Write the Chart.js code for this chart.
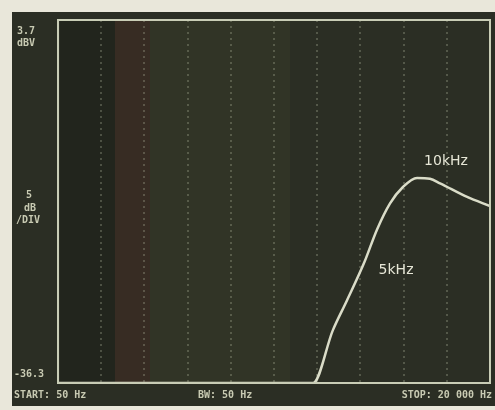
<!DOCTYPE html>
<html>
<head>
<meta charset="utf-8">
<script src="https://cdn.jsdelivr.net/npm/chart.js@4"></script>
<style>
  html, body { margin: 0; padding: 0; background: #e9e7da; }
  #wrap { width: 495px; height: 410px; position: relative; }
</style>
</head>
<body>
<div id="wrap"><canvas id="specChart" width="495" height="410"></canvas></div>
<script>
// trace (Hz, dBV)
var freqHz = [50, 1000, 1720, 2260, 2750, 3500, 4170, 5000, 5980, 7270, 8700, 10000, 14560, 20000];
var levelDb = [-36.3, -36.3, -36.3, -30.5, -27.2, -23.0, -19.4, -16.5, -14.7, -13.7, -13.8, -14.3, -15.8, -16.8];

var markerText = ["10kHz", "5kHz"];
var markerHz = [10000, 5000];
var markerDb = [-11.9, -23.9];

var refLevel = 3.7;
var dbPerDiv = 5;
var yDivs = 8;
var startHz = 50;
var stopHz = 20000;
var xDivs = 10;

var points = freqHz.map(function (f, i) { return { x: f, y: levelDb[i] }; });

var screenBg = {
    id: "screenBg",
    beforeDraw: function (chart) {
        var c = chart.ctx;
        c.save();
        c.fillStyle = "#2b2e24";
        c.fillRect(12, 12, 483, 394);
        // uneven tint bands from the photo
        c.fillStyle = "rgba(18,20,18,0.35)";
        c.fillRect(60, 20, 55, 363);
        c.fillStyle = "rgba(75,42,36,0.4)";
        c.fillRect(115, 20, 35, 363);
        c.fillStyle = "rgba(62,66,42,0.3)";
        c.fillRect(150, 20, 140, 363);
        c.restore();
    },
    afterDraw: function (chart) {
        var c = chart.ctx;
        var a = chart.chartArea;
        var xs = chart.scales.x, ys = chart.scales.y;
        c.save();
        c.strokeStyle = "#c9cdb6";
        c.lineWidth = 2;
        c.strokeRect(a.left, a.top, a.right - a.left, a.bottom - a.top);

        c.fillStyle = "#e6e6d6";
        c.font = "14px 'DejaVu Sans', sans-serif";
        c.textAlign = "center";
        c.textBaseline = "middle";
        markerText.forEach(function (t, i) {
            c.fillText(t, xs.getPixelForValue(markerHz[i]) + 6, ys.getPixelForValue(markerDb[i]));
        });

        c.fillStyle = "#c8cab2";
        c.font = "bold 10px 'DejaVu Sans Mono', monospace";
        c.textAlign = "left";
        c.fillText(refLevel.toFixed(1), 17, 31);
        c.fillText("dBV", 17, 43);
        c.fillText(String(dbPerDiv), 26, 195);
        c.fillText("dB", 24, 208);
        c.fillText("/DIV", 16, 220);
        c.fillText((refLevel - dbPerDiv * yDivs).toFixed(1), 14, 374);
        c.fillText("START: " + startHz + " Hz", 14, 395);
        c.fillText("BW: 50 Hz", 198, 395);
        c.textAlign = "right";
        c.fillText("STOP: 20 000 Hz", 492, 395);
        c.restore();
    }
};

var ctx = document.getElementById("specChart").getContext("2d");
var specChart = new Chart(ctx, {
    type: "line",
    data: {
        datasets: [{
            data: points,
            borderColor: "#dadcc8",
            borderWidth: 2.5,
            pointRadius: 0,
            cubicInterpolationMode: "monotone",
            fill: false
        }]
    },
    options: {
        responsive: false,
        animation: false,
        layout: { padding: { left: 58, right: 5, top: 20, bottom: 27 } },
        scales: {
            x: {
                type: "logarithmic",
                min: startHz,
                max: stopHz,
                afterBuildTicks: function (axis) {
                    var t = [];
                    for (var k = 0; k <= xDivs; k++) {
                        t.push({ value: startHz * Math.pow(stopHz / startHz, k / xDivs) });
                    }
                    axis.ticks = t;
                },
                ticks: { display: false },
                border: { display: false, dash: [2, 4] },
                grid: { color: "rgba(180,186,160,0.3)", lineWidth: 2, drawTicks: false }
            },
            y: {
                min: refLevel - dbPerDiv * yDivs,
                max: refLevel,
                ticks: { display: false, stepSize: dbPerDiv },
                border: { display: false },
                grid: { display: false, drawTicks: false }
            }
        },
        plugins: {
            legend: { display: false },
            tooltip: { enabled: false }
        }
    },
    plugins: [screenBg]
});
</script>
</body>
</html>
